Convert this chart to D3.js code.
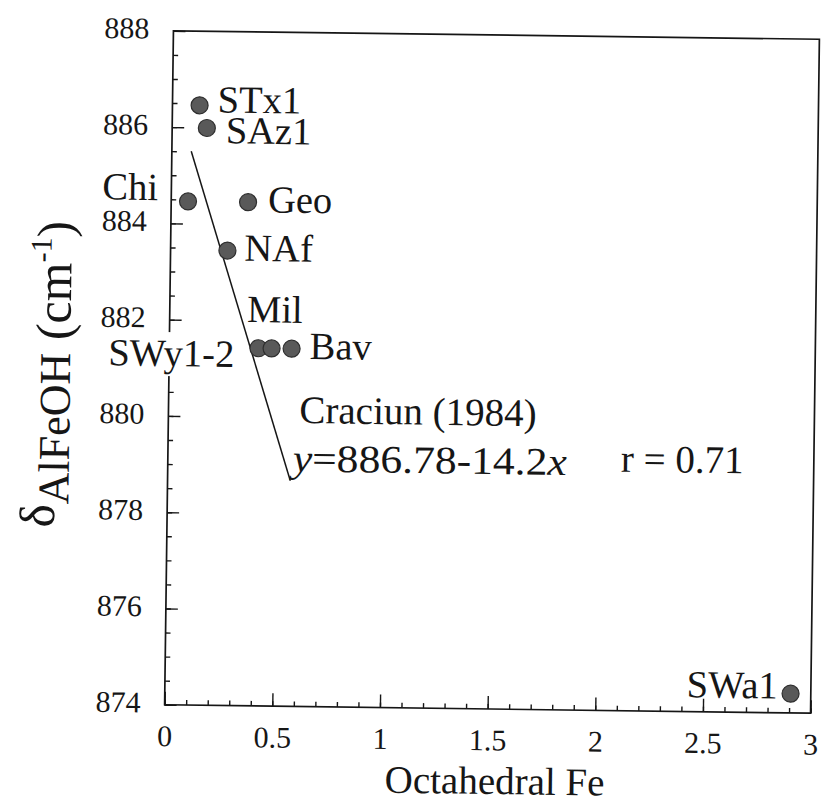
<!DOCTYPE html>
<html>
<head>
<meta charset="utf-8">
<script src="https://cdn.jsdelivr.net/npm/d3@7"></script>
<style>
  html, body { margin: 0; padding: 0; background: #fff; }
  svg { display: block; }
  svg text { fill: #161616; }
</style>
</head>
<body>
<svg id="chart" width="821" height="805"></svg>
<script>
// Smectite samples: octahedral Fe content vs. AlFeOH bending band position
const sampleNames  = ["STx1", "SAz1", "Chi", "Geo", "NAf", "SWy1-2", "Mil", "Bav", "SWa1"];
const octahedralFe = [0.126, 0.161, 0.078, 0.357, 0.264, 0.414, 0.475, 0.568, 2.906];
const deltaAlFeOH  = [886.46, 885.99, 884.46, 884.46, 883.45, 881.43, 881.43, 881.43, 874.40];

// Axis ticks
const xTicks      = [0, 0.5, 1, 1.5, 2, 2.5, 3];
const xTickLabels = ["0", "0.5", "1", "1.5", "2", "2.5", "3"];
const yTicks      = [874, 876, 878, 880, 882, 884, 886, 888];
const yTickLabels = ["874", "876", "878", "880", "882", "884", "886", "888"];

// Linear fit after Craciun (1984)
const fitSource    = "Craciun (1984)";
const fitIntercept = 886.78;
const fitSlope     = -14.2;
const fitR         = 0.71;
const fitXRange    = [0.09, 0.57];

// ---- layout ----
const W = 821, H = 805;
const plot = { left: 169, right: 815, top: 35, bottom: 709 };
const x = d3.scaleLinear().domain([0, 3]).range([plot.left, plot.right]);
const y = d3.scaleLinear().domain([874, 888]).range([plot.bottom, plot.top]);

// label placement relative to each marker: anchor, dx, dy (baseline)
const labelPlacement = {
  "STx1":   ["start",  18,   7],
  "SAz1":   ["start",  19,  15],
  "Chi":    ["end",   -30,  -1],
  "Geo":    ["start",  20,  10],
  "NAf":    ["start",  17,  10],
  "SWy1-2": ["end",   -24,  19],
  "Mil":    ["start", -25, -26],
  "Bav":    ["start",  18,  10],
  "SWa1":   ["end",   -13,   5]
};

const svg = d3.select("#chart");
svg.append("rect").attr("width", W).attr("height", H).attr("fill", "#fff");

const cx = (plot.left + plot.right) / 2, cy = (plot.top + plot.bottom) / 2;
const g = svg.append("g").attr("transform", `rotate(0.75 ${cx} ${cy})`);

const ink = "#161616";
const face = "Liberation Serif, DejaVu Serif, Liberation Sans, serif";

function styleAxis(sel, size) {
  sel.attr("font-family", face)
     .attr("font-size", size)
     .attr("color", ink);
  sel.select(".domain").remove();
  sel.selectAll(".tick line").attr("stroke-width", 1.4);
}

// minor ticks
g.append("g")
  .attr("transform", `translate(0,${plot.bottom})`)
  .call(d3.axisBottom(x).ticks(30).tickFormat("").tickSize(-5))
  .call(s => styleAxis(s, 30));
g.append("g")
  .attr("transform", `translate(${plot.left},0)`)
  .call(d3.axisLeft(y).ticks(28).tickFormat("").tickSize(-5))
  .call(s => styleAxis(s, 30));

// major ticks with labels
g.append("g")
  .attr("transform", `translate(0,${plot.bottom})`)
  .call(d3.axisBottom(x).tickValues(xTicks).tickFormat((d, i) => xTickLabels[i]).tickSize(-13).tickPadding(20))
  .call(s => styleAxis(s, 30));
g.append("g")
  .attr("transform", `translate(${plot.left},0)`)
  .call(d3.axisLeft(y).tickValues(yTicks).tickFormat((d, i) => yTickLabels[i]).tickSize(-12).tickPadding(24))
  .call(s => styleAxis(s, 30))
  .call(s => s.selectAll(".tick text").attr("dy", "0.25em"));

// frame
g.append("rect")
  .attr("x", plot.left).attr("y", plot.top)
  .attr("width", plot.right - plot.left).attr("height", plot.bottom - plot.top)
  .attr("fill", "none").attr("stroke", ink).attr("stroke-width", 1.7);

// fit line
const fitPts = fitXRange.map(v => [v, fitIntercept + fitSlope * v]);
g.append("path")
  .attr("d", d3.line().x(d => x(d[0])).y(d => y(d[1]))(fitPts))
  .attr("fill", "none").attr("stroke", ink).attr("stroke-width", 1.5);

// markers
const samples = sampleNames.map((n, i) => ({ name: n, fe: octahedralFe[i], band: deltaAlFeOH[i] }));
g.append("g").selectAll("circle")
  .data(samples).join("circle")
  .attr("cx", d => x(d.fe)).attr("cy", d => y(d.band)).attr("r", 8.5)
  .attr("fill", "#595959").attr("stroke", "#2e2e2e").attr("stroke-width", 1.2);

// sample labels
const labels = g.append("g").attr("font-size", 38.5).attr("font-family", face);
samples.forEach(d => {
  const [anchor, dx, dy] = labelPlacement[d.name];
  const t = labels.append("text")
    .attr("x", x(d.fe) + dx).attr("y", y(d.band) + dy)
    .attr("text-anchor", anchor).text(d.name);
  if (d.name === "SWy1-2") {
    const b = t.node().getBBox();
    labels.insert("rect", () => t.node())
      .attr("x", b.x - 2).attr("y", b.y).attr("width", b.width + 4).attr("height", b.height + 2)
      .attr("fill", "#fff");
  }
});

// fit annotation
const ann = g.append("g").attr("font-size", 39).attr("font-family", face);
ann.append("text").attr("x", 300).attr("y", 425.5).text(fitSource);
const eq = ann.append("text").attr("x", 294).attr("y", 474)
  .attr("textLength", 274).attr("lengthAdjust", "spacingAndGlyphs");
eq.append("tspan").attr("font-style", "italic").text("y");
eq.append("tspan").text(`=${fitIntercept}-${Math.abs(fitSlope)}`);
eq.append("tspan").attr("font-style", "italic").text("x");
ann.append("text").attr("x", 622).attr("y", 470).text(`r = ${fitR}`);

// axis titles
g.append("text")
  .attr("x", 500).attr("y", 794)
  .attr("text-anchor", "middle").attr("font-size", 39).attr("font-family", face)
  .text("Octahedral Fe");

const yt = g.append("text")
  .attr("transform", "translate(56,380) rotate(-90)")
  .attr("text-anchor", "middle").attr("font-family", face);
yt.append("tspan").attr("font-size", 50).text("δ");
yt.append("tspan").attr("font-size", 44).attr("dy", 14).text("AlFeOH");
yt.append("tspan").attr("font-size", 50).text(" (cm");
yt.append("tspan").attr("font-size", 30).attr("dy", -20).text("-1");
yt.append("tspan").attr("font-size", 50).attr("dy", 20).text(")");
</script>
</body>
</html>
